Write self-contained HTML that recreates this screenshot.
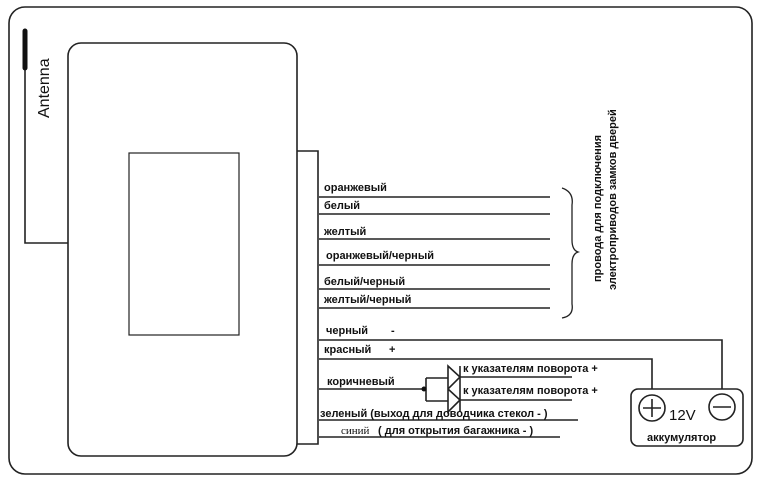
<!DOCTYPE html>
<html><head><meta charset="utf-8"><style>
body{margin:0;background:#fff}
svg{display:block}
text{font-family:"Liberation Sans","DejaVu Sans",sans-serif;font-weight:bold;font-size:11px;fill:#111}
</style></head><body>
<svg width="762" height="484" viewBox="0 0 762 484" xmlns="http://www.w3.org/2000/svg">
<g fill="none" stroke="#222" stroke-width="1.6">
<rect x="9" y="7" width="743" height="467" rx="16"/>
<rect x="68" y="43" width="229" height="413" rx="13"/>
<rect x="129" y="153" width="110" height="182" stroke-width="1.2"/>
<path d="M25 68 V243 H68"/>
<path d="M297 151 H318 V444 H297"/>
<path d="M319 197H550M319 214H550M319 239H550M319 265H550M319 289H550M319 308H550"/>
<path d="M319 340H722V389M319 359H652V389"/>
<path d="M319 389H424M426 378V401M426 378H448M426 401H448"/>
<path d="M460 377H572M460 400H572M319 420H578M319 437H560"/>
<path d="M448 366L460 377L448 389ZM448 389L460 400L448 412Z"/>
<path d="M460 366V389M460 389V412"/>
<path d="M562 188Q574 192 572 205V240Q572 250 578 252Q572 254 572 264V304Q574 316 562 318" stroke-width="1.3"/>
<rect x="631" y="389" width="112" height="57" rx="7"/>
<circle cx="652" cy="408" r="13"/>
<circle cx="722" cy="407" r="13"/>
<path d="M643 408H661M652 399V417M713 407H731"/>
</g>
<line x1="25" y1="31" x2="25" y2="68" stroke="#111" stroke-width="5" stroke-linecap="round"/>
<circle cx="424" cy="389" r="2.5" fill="#111"/>
<text transform="translate(49 118) rotate(-90)" style="font-weight:normal;font-size:16px">Antenna</text>
<text x="324" y="191">оранжевый</text>
<text x="324" y="209">белый</text>
<text x="324" y="235">желтый</text>
<text x="326" y="259">оранжевый/черный</text>
<text x="324" y="285">белый/черный</text>
<text x="324" y="303">желтый/черный</text>
<text x="326" y="334">черный</text>
<text x="391" y="334">-</text>
<text x="324" y="353">красный</text>
<text x="389" y="353">+</text>
<text x="327" y="385">коричневый</text>
<text x="463" y="372">к указателям поворота +</text>
<text x="463" y="394">к указателям поворота  +</text>
<text x="320" y="417">зеленый (выход для доводчика стекол - )</text>
<text x="341" y="434" style="font-family:'Liberation Serif',serif;font-weight:normal">синий</text>
<text x="378" y="434"> ( для открытия багажника - )</text>
<text x="669" y="420" style="font-weight:normal;font-size:15px">12V</text>
<text x="647" y="441">аккумулятор</text>
<text transform="translate(601 282) rotate(-90)" font-size="10.5">провода для подключения</text>
<text transform="translate(616 290) rotate(-90)" font-size="10.5">электроприводов замков дверей</text>
</svg>
</body></html>
